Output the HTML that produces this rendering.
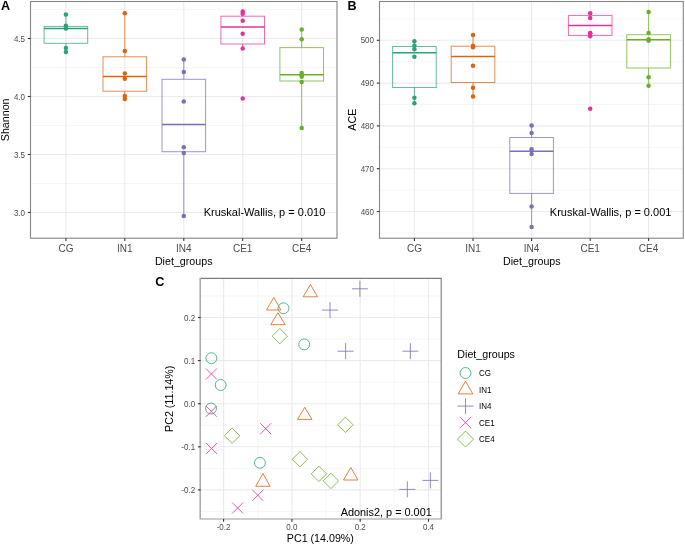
<!DOCTYPE html>
<html><head><meta charset="utf-8"><style>html,body{margin:0;padding:0;background:#fff;width:685px;height:545px;overflow:hidden;position:relative;font-family:"Liberation Sans", sans-serif}</style></head><body>
<svg width="685" height="545" viewBox="0 0 685 545" style="position:absolute;left:0;top:0;will-change:transform;font-family:'Liberation Sans', sans-serif">
<rect x="0" y="0" width="685" height="545" fill="#fff"/>
<line x1="30.5" y1="9.5" x2="337" y2="9.5" stroke="#F0F0F0" stroke-width="0.6" />
<line x1="30.5" y1="67.5" x2="337" y2="67.5" stroke="#F0F0F0" stroke-width="0.6" />
<line x1="30.5" y1="125.5" x2="337" y2="125.5" stroke="#F0F0F0" stroke-width="0.6" />
<line x1="30.5" y1="183.5" x2="337" y2="183.5" stroke="#F0F0F0" stroke-width="0.6" />
<line x1="30.5" y1="38.5" x2="337" y2="38.5" stroke="#EBEBEB" stroke-width="1.1" />
<line x1="30.5" y1="96.5" x2="337" y2="96.5" stroke="#EBEBEB" stroke-width="1.1" />
<line x1="30.5" y1="154.5" x2="337" y2="154.5" stroke="#EBEBEB" stroke-width="1.1" />
<line x1="30.5" y1="212.5" x2="337" y2="212.5" stroke="#EBEBEB" stroke-width="1.1" />
<line x1="65.9" y1="1.5" x2="65.9" y2="238.2" stroke="#EBEBEB" stroke-width="1.1" />
<line x1="124.8" y1="1.5" x2="124.8" y2="238.2" stroke="#EBEBEB" stroke-width="1.1" />
<line x1="183.8" y1="1.5" x2="183.8" y2="238.2" stroke="#EBEBEB" stroke-width="1.1" />
<line x1="242.7" y1="1.5" x2="242.7" y2="238.2" stroke="#EBEBEB" stroke-width="1.1" />
<line x1="301.7" y1="1.5" x2="301.7" y2="238.2" stroke="#EBEBEB" stroke-width="1.1" />
<line x1="65.9" y1="14.5" x2="65.9" y2="26.4" stroke="#29A479" stroke-width="1.0" stroke-opacity="0.72"/>
<line x1="65.9" y1="43.3" x2="65.9" y2="52.1" stroke="#29A479" stroke-width="1.0" stroke-opacity="0.72"/>
<rect x="44.1" y="26.4" width="43.6" height="16.9" fill="none" stroke="#29A479" stroke-width="1" stroke-opacity="0.72"/>
<line x1="44.1" y1="28.4" x2="87.7" y2="28.4" stroke="#29A479" stroke-width="1.5" />
<circle cx="65.9" cy="14.5" r="2.25" fill="#29A479"/>
<circle cx="65.9" cy="25.8" r="2.25" fill="#29A479"/>
<circle cx="65.9" cy="28.1" r="2.25" fill="#29A479"/>
<circle cx="65.9" cy="28.6" r="2.25" fill="#29A479"/>
<circle cx="65.9" cy="48.1" r="2.25" fill="#29A479"/>
<circle cx="65.9" cy="52.1" r="2.25" fill="#29A479"/>
<line x1="124.8" y1="13.3" x2="124.8" y2="56.8" stroke="#DB6410" stroke-width="1.0" stroke-opacity="0.72"/>
<line x1="124.8" y1="91.2" x2="124.8" y2="99" stroke="#DB6410" stroke-width="1.0" stroke-opacity="0.72"/>
<rect x="103" y="56.8" width="43.6" height="34.4" fill="none" stroke="#DB6410" stroke-width="1" stroke-opacity="0.72"/>
<line x1="103" y1="76.4" x2="146.6" y2="76.4" stroke="#DB6410" stroke-width="1.5" />
<circle cx="124.8" cy="13.3" r="2.25" fill="#DB6410"/>
<circle cx="124.8" cy="50.9" r="2.25" fill="#DB6410"/>
<circle cx="124.8" cy="73.5" r="2.25" fill="#DB6410"/>
<circle cx="124.8" cy="78.8" r="2.25" fill="#DB6410"/>
<circle cx="124.8" cy="96" r="2.25" fill="#DB6410"/>
<circle cx="124.8" cy="99" r="2.25" fill="#DB6410"/>
<line x1="183.8" y1="59.5" x2="183.8" y2="79.3" stroke="#7672B6" stroke-width="1.0" stroke-opacity="0.72"/>
<line x1="183.8" y1="151.7" x2="183.8" y2="216" stroke="#7672B6" stroke-width="1.0" stroke-opacity="0.72"/>
<rect x="162" y="79.3" width="43.6" height="72.4" fill="none" stroke="#7672B6" stroke-width="1" stroke-opacity="0.72"/>
<line x1="162" y1="124.6" x2="205.6" y2="124.6" stroke="#7672B6" stroke-width="1.5" />
<circle cx="183.8" cy="59.5" r="2.25" fill="#7672B6"/>
<circle cx="183.8" cy="72" r="2.25" fill="#7672B6"/>
<circle cx="183.8" cy="101.6" r="2.25" fill="#7672B6"/>
<circle cx="183.8" cy="147.3" r="2.25" fill="#7672B6"/>
<circle cx="183.8" cy="152.9" r="2.25" fill="#7672B6"/>
<circle cx="183.8" cy="216" r="2.25" fill="#7672B6"/>
<line x1="242.7" y1="11.5" x2="242.7" y2="16.2" stroke="#E7309A" stroke-width="1.0" stroke-opacity="0.72"/>
<line x1="242.7" y1="44" x2="242.7" y2="48.5" stroke="#E7309A" stroke-width="1.0" stroke-opacity="0.72"/>
<rect x="220.9" y="16.2" width="43.6" height="27.8" fill="none" stroke="#E7309A" stroke-width="1" stroke-opacity="0.72"/>
<line x1="220.9" y1="26.9" x2="264.5" y2="26.9" stroke="#E7309A" stroke-width="1.5" />
<circle cx="242.7" cy="11.5" r="2.25" fill="#E7309A"/>
<circle cx="242.7" cy="13.7" r="2.25" fill="#E7309A"/>
<circle cx="242.7" cy="20.8" r="2.25" fill="#E7309A"/>
<circle cx="242.7" cy="33.7" r="2.25" fill="#E7309A"/>
<circle cx="242.7" cy="48.5" r="2.25" fill="#E7309A"/>
<circle cx="242.7" cy="98.4" r="2.25" fill="#E7309A"/>
<line x1="301.7" y1="29.5" x2="301.7" y2="47.6" stroke="#6AAF28" stroke-width="1.0" stroke-opacity="0.72"/>
<line x1="301.7" y1="81" x2="301.7" y2="128.1" stroke="#6AAF28" stroke-width="1.0" stroke-opacity="0.72"/>
<rect x="279.9" y="47.6" width="43.6" height="33.4" fill="none" stroke="#6AAF28" stroke-width="1" stroke-opacity="0.72"/>
<line x1="279.9" y1="74.8" x2="323.5" y2="74.8" stroke="#6AAF28" stroke-width="1.5" />
<circle cx="301.7" cy="29.5" r="2.25" fill="#6AAF28"/>
<circle cx="301.7" cy="39.3" r="2.25" fill="#6AAF28"/>
<circle cx="301.7" cy="73.1" r="2.25" fill="#6AAF28"/>
<circle cx="301.7" cy="75.6" r="2.25" fill="#6AAF28"/>
<circle cx="301.7" cy="76.7" r="2.25" fill="#6AAF28"/>
<circle cx="301.7" cy="82.1" r="2.25" fill="#6AAF28"/>
<circle cx="301.7" cy="128.1" r="2.25" fill="#6AAF28"/>
<rect x="30.5" y="1.5" width="306.5" height="236.7" fill="none" stroke="#858585" stroke-width="1.1"/>
<line x1="27.8" y1="38.5" x2="30.5" y2="38.5" stroke="#333333" stroke-width="1.1" />
<text transform="translate(25,41.6) scale(0.89,1)" font-size="9.0" fill="#4D4D4D" text-anchor="end" font-weight="normal" >4.5</text>
<line x1="27.8" y1="96.5" x2="30.5" y2="96.5" stroke="#333333" stroke-width="1.1" />
<text transform="translate(25,99.6) scale(0.89,1)" font-size="9.0" fill="#4D4D4D" text-anchor="end" font-weight="normal" >4.0</text>
<line x1="27.8" y1="154.5" x2="30.5" y2="154.5" stroke="#333333" stroke-width="1.1" />
<text transform="translate(25,157.6) scale(0.89,1)" font-size="9.0" fill="#4D4D4D" text-anchor="end" font-weight="normal" >3.5</text>
<line x1="27.8" y1="212.5" x2="30.5" y2="212.5" stroke="#333333" stroke-width="1.1" />
<text transform="translate(25,215.6) scale(0.89,1)" font-size="9.0" fill="#4D4D4D" text-anchor="end" font-weight="normal" >3.0</text>
<line x1="65.9" y1="238.2" x2="65.9" y2="240.9" stroke="#333333" stroke-width="1.1" />
<text transform="translate(65.9,251.85) scale(0.93,1)" font-size="10.8" fill="#4D4D4D" text-anchor="middle" font-weight="normal" >CG</text>
<line x1="124.8" y1="238.2" x2="124.8" y2="240.9" stroke="#333333" stroke-width="1.1" />
<text transform="translate(124.8,251.85) scale(0.93,1)" font-size="10.8" fill="#4D4D4D" text-anchor="middle" font-weight="normal" >IN1</text>
<line x1="183.8" y1="238.2" x2="183.8" y2="240.9" stroke="#333333" stroke-width="1.1" />
<text transform="translate(183.8,251.85) scale(0.93,1)" font-size="10.8" fill="#4D4D4D" text-anchor="middle" font-weight="normal" >IN4</text>
<line x1="242.7" y1="238.2" x2="242.7" y2="240.9" stroke="#333333" stroke-width="1.1" />
<text transform="translate(242.7,251.85) scale(0.93,1)" font-size="10.8" fill="#4D4D4D" text-anchor="middle" font-weight="normal" >CE1</text>
<line x1="301.7" y1="238.2" x2="301.7" y2="240.9" stroke="#333333" stroke-width="1.1" />
<text transform="translate(301.7,251.85) scale(0.93,1)" font-size="10.8" fill="#4D4D4D" text-anchor="middle" font-weight="normal" >CE4</text>
<text transform="translate(183.7,264.8) scale(1.07,1)" font-size="10.0" fill="#000" text-anchor="middle" font-weight="normal" >Diet_groups</text>
<text transform="translate(8.5,119.85) rotate(-90) scale(1.07,1)" font-size="10.0" fill="#000" text-anchor="middle">Shannon</text>
<text x="325.3" y="216.2" font-size="11.0" fill="#000" text-anchor="end" font-weight="normal" >Kruskal-Wallis, p = 0.010</text>
<text transform="translate(1,10.2) scale(0.97,1)" font-size="13.0" fill="#000" text-anchor="start" font-weight="bold" >A</text>
<line x1="379.5" y1="18.9" x2="683.3" y2="18.9" stroke="#F0F0F0" stroke-width="0.6" />
<line x1="379.5" y1="61.7" x2="683.3" y2="61.7" stroke="#F0F0F0" stroke-width="0.6" />
<line x1="379.5" y1="104.5" x2="683.3" y2="104.5" stroke="#F0F0F0" stroke-width="0.6" />
<line x1="379.5" y1="147.3" x2="683.3" y2="147.3" stroke="#F0F0F0" stroke-width="0.6" />
<line x1="379.5" y1="190.1" x2="683.3" y2="190.1" stroke="#F0F0F0" stroke-width="0.6" />
<line x1="379.5" y1="232.9" x2="683.3" y2="232.9" stroke="#F0F0F0" stroke-width="0.6" />
<line x1="379.5" y1="40.3" x2="683.3" y2="40.3" stroke="#EBEBEB" stroke-width="1.1" />
<line x1="379.5" y1="83.1" x2="683.3" y2="83.1" stroke="#EBEBEB" stroke-width="1.1" />
<line x1="379.5" y1="125.9" x2="683.3" y2="125.9" stroke="#EBEBEB" stroke-width="1.1" />
<line x1="379.5" y1="168.7" x2="683.3" y2="168.7" stroke="#EBEBEB" stroke-width="1.1" />
<line x1="379.5" y1="211.5" x2="683.3" y2="211.5" stroke="#EBEBEB" stroke-width="1.1" />
<line x1="414.4" y1="1.5" x2="414.4" y2="238.2" stroke="#EBEBEB" stroke-width="1.1" />
<line x1="473" y1="1.5" x2="473" y2="238.2" stroke="#EBEBEB" stroke-width="1.1" />
<line x1="531.6" y1="1.5" x2="531.6" y2="238.2" stroke="#EBEBEB" stroke-width="1.1" />
<line x1="590.2" y1="1.5" x2="590.2" y2="238.2" stroke="#EBEBEB" stroke-width="1.1" />
<line x1="648.6" y1="1.5" x2="648.6" y2="238.2" stroke="#EBEBEB" stroke-width="1.1" />
<line x1="414.4" y1="41.2" x2="414.4" y2="46.5" stroke="#29A479" stroke-width="1.0" stroke-opacity="0.72"/>
<line x1="414.4" y1="87.5" x2="414.4" y2="103.2" stroke="#29A479" stroke-width="1.0" stroke-opacity="0.72"/>
<rect x="392.6" y="46.5" width="43.6" height="41" fill="none" stroke="#29A479" stroke-width="1" stroke-opacity="0.72"/>
<line x1="392.6" y1="52.8" x2="436.2" y2="52.8" stroke="#29A479" stroke-width="1.5" />
<circle cx="414.4" cy="41.2" r="2.25" fill="#29A479"/>
<circle cx="414.4" cy="45.7" r="2.25" fill="#29A479"/>
<circle cx="414.4" cy="49.3" r="2.25" fill="#29A479"/>
<circle cx="414.4" cy="56.7" r="2.25" fill="#29A479"/>
<circle cx="414.4" cy="97.7" r="2.25" fill="#29A479"/>
<circle cx="414.4" cy="103.2" r="2.25" fill="#29A479"/>
<line x1="473" y1="34.9" x2="473" y2="46.2" stroke="#DB6410" stroke-width="1.0" stroke-opacity="0.72"/>
<line x1="473" y1="82.5" x2="473" y2="96.6" stroke="#DB6410" stroke-width="1.0" stroke-opacity="0.72"/>
<rect x="451.2" y="46.2" width="43.6" height="36.3" fill="none" stroke="#DB6410" stroke-width="1" stroke-opacity="0.72"/>
<line x1="451.2" y1="56.4" x2="494.8" y2="56.4" stroke="#DB6410" stroke-width="1.5" />
<circle cx="473" cy="34.9" r="2.25" fill="#DB6410"/>
<circle cx="473" cy="45.7" r="2.25" fill="#DB6410"/>
<circle cx="473" cy="47.3" r="2.25" fill="#DB6410"/>
<circle cx="473" cy="65.8" r="2.25" fill="#DB6410"/>
<circle cx="473" cy="87.8" r="2.25" fill="#DB6410"/>
<circle cx="473" cy="96.6" r="2.25" fill="#DB6410"/>
<line x1="531.6" y1="125.6" x2="531.6" y2="137.5" stroke="#7672B6" stroke-width="1.0" stroke-opacity="0.72"/>
<line x1="531.6" y1="193.4" x2="531.6" y2="227.1" stroke="#7672B6" stroke-width="1.0" stroke-opacity="0.72"/>
<rect x="509.8" y="137.5" width="43.6" height="55.9" fill="none" stroke="#7672B6" stroke-width="1" stroke-opacity="0.72"/>
<line x1="509.8" y1="151.3" x2="553.4" y2="151.3" stroke="#7672B6" stroke-width="1.5" />
<circle cx="531.6" cy="125.6" r="2.25" fill="#7672B6"/>
<circle cx="531.6" cy="133.1" r="2.25" fill="#7672B6"/>
<circle cx="531.6" cy="149.2" r="2.25" fill="#7672B6"/>
<circle cx="531.6" cy="154.1" r="2.25" fill="#7672B6"/>
<circle cx="531.6" cy="206.6" r="2.25" fill="#7672B6"/>
<circle cx="531.6" cy="227.1" r="2.25" fill="#7672B6"/>
<line x1="590.2" y1="13.3" x2="590.2" y2="15.4" stroke="#E7309A" stroke-width="1.0" stroke-opacity="0.72"/>
<line x1="590.2" y1="35.4" x2="590.2" y2="36.3" stroke="#E7309A" stroke-width="1.0" stroke-opacity="0.72"/>
<rect x="568.4" y="15.4" width="43.6" height="20" fill="none" stroke="#E7309A" stroke-width="1" stroke-opacity="0.72"/>
<line x1="568.4" y1="25.6" x2="612" y2="25.6" stroke="#E7309A" stroke-width="1.5" />
<circle cx="590.2" cy="13.3" r="2.25" fill="#E7309A"/>
<circle cx="590.2" cy="18" r="2.25" fill="#E7309A"/>
<circle cx="590.2" cy="33.1" r="2.25" fill="#E7309A"/>
<circle cx="590.2" cy="33.3" r="2.25" fill="#E7309A"/>
<circle cx="590.2" cy="36.3" r="2.25" fill="#E7309A"/>
<circle cx="590.2" cy="108.8" r="2.25" fill="#E7309A"/>
<line x1="648.6" y1="12" x2="648.6" y2="34.7" stroke="#6AAF28" stroke-width="1.0" stroke-opacity="0.72"/>
<line x1="648.6" y1="68" x2="648.6" y2="85.7" stroke="#6AAF28" stroke-width="1.0" stroke-opacity="0.72"/>
<rect x="626.8" y="34.7" width="43.6" height="33.3" fill="none" stroke="#6AAF28" stroke-width="1" stroke-opacity="0.72"/>
<line x1="626.8" y1="39.7" x2="670.4" y2="39.7" stroke="#6AAF28" stroke-width="1.5" />
<circle cx="648.6" cy="12" r="2.25" fill="#6AAF28"/>
<circle cx="648.6" cy="33.1" r="2.25" fill="#6AAF28"/>
<circle cx="648.6" cy="39.3" r="2.25" fill="#6AAF28"/>
<circle cx="648.6" cy="40.8" r="2.25" fill="#6AAF28"/>
<circle cx="648.6" cy="77.3" r="2.25" fill="#6AAF28"/>
<circle cx="648.6" cy="85.7" r="2.25" fill="#6AAF28"/>
<rect x="379.5" y="1.5" width="303.8" height="236.7" fill="none" stroke="#858585" stroke-width="1.1"/>
<line x1="376.8" y1="40.3" x2="379.5" y2="40.3" stroke="#333333" stroke-width="1.1" />
<text transform="translate(374,43.4) scale(0.89,1)" font-size="9.0" fill="#4D4D4D" text-anchor="end" font-weight="normal" >500</text>
<line x1="376.8" y1="83.1" x2="379.5" y2="83.1" stroke="#333333" stroke-width="1.1" />
<text transform="translate(374,86.2) scale(0.89,1)" font-size="9.0" fill="#4D4D4D" text-anchor="end" font-weight="normal" >490</text>
<line x1="376.8" y1="125.9" x2="379.5" y2="125.9" stroke="#333333" stroke-width="1.1" />
<text transform="translate(374,129) scale(0.89,1)" font-size="9.0" fill="#4D4D4D" text-anchor="end" font-weight="normal" >480</text>
<line x1="376.8" y1="168.7" x2="379.5" y2="168.7" stroke="#333333" stroke-width="1.1" />
<text transform="translate(374,171.8) scale(0.89,1)" font-size="9.0" fill="#4D4D4D" text-anchor="end" font-weight="normal" >470</text>
<line x1="376.8" y1="211.5" x2="379.5" y2="211.5" stroke="#333333" stroke-width="1.1" />
<text transform="translate(374,214.6) scale(0.89,1)" font-size="9.0" fill="#4D4D4D" text-anchor="end" font-weight="normal" >460</text>
<line x1="414.4" y1="238.2" x2="414.4" y2="240.9" stroke="#333333" stroke-width="1.1" />
<text transform="translate(414.4,251.85) scale(0.93,1)" font-size="10.8" fill="#4D4D4D" text-anchor="middle" font-weight="normal" >CG</text>
<line x1="473" y1="238.2" x2="473" y2="240.9" stroke="#333333" stroke-width="1.1" />
<text transform="translate(473,251.85) scale(0.93,1)" font-size="10.8" fill="#4D4D4D" text-anchor="middle" font-weight="normal" >IN1</text>
<line x1="531.6" y1="238.2" x2="531.6" y2="240.9" stroke="#333333" stroke-width="1.1" />
<text transform="translate(531.6,251.85) scale(0.93,1)" font-size="10.8" fill="#4D4D4D" text-anchor="middle" font-weight="normal" >IN4</text>
<line x1="590.2" y1="238.2" x2="590.2" y2="240.9" stroke="#333333" stroke-width="1.1" />
<text transform="translate(590.2,251.85) scale(0.93,1)" font-size="10.8" fill="#4D4D4D" text-anchor="middle" font-weight="normal" >CE1</text>
<line x1="648.6" y1="238.2" x2="648.6" y2="240.9" stroke="#333333" stroke-width="1.1" />
<text transform="translate(648.6,251.85) scale(0.93,1)" font-size="10.8" fill="#4D4D4D" text-anchor="middle" font-weight="normal" >CE4</text>
<text transform="translate(531.8,264.8) scale(1.07,1)" font-size="10.0" fill="#000" text-anchor="middle" font-weight="normal" >Diet_groups</text>
<text transform="translate(355.7,119.65) rotate(-90) scale(1.07,1)" font-size="10.0" fill="#000" text-anchor="middle">ACE</text>
<text x="671.4" y="216.2" font-size="11.0" fill="#000" text-anchor="end" font-weight="normal" >Kruskal-Wallis, p = 0.001</text>
<text transform="translate(347.55,10.2) scale(0.97,1)" font-size="13.0" fill="#000" text-anchor="start" font-weight="bold" >B</text>
<line x1="257.75" y1="278.4" x2="257.75" y2="519" stroke="#F0F0F0" stroke-width="0.6" />
<line x1="326.05" y1="278.4" x2="326.05" y2="519" stroke="#F0F0F0" stroke-width="0.6" />
<line x1="394.35" y1="278.4" x2="394.35" y2="519" stroke="#F0F0F0" stroke-width="0.6" />
<line x1="200.6" y1="295.95" x2="441.2" y2="295.95" stroke="#F0F0F0" stroke-width="0.6" />
<line x1="200.6" y1="339.05" x2="441.2" y2="339.05" stroke="#F0F0F0" stroke-width="0.6" />
<line x1="200.6" y1="382.15" x2="441.2" y2="382.15" stroke="#F0F0F0" stroke-width="0.6" />
<line x1="200.6" y1="425.25" x2="441.2" y2="425.25" stroke="#F0F0F0" stroke-width="0.6" />
<line x1="200.6" y1="468.35" x2="441.2" y2="468.35" stroke="#F0F0F0" stroke-width="0.6" />
<line x1="200.6" y1="511.45" x2="441.2" y2="511.45" stroke="#F0F0F0" stroke-width="0.6" />
<line x1="223.6" y1="278.4" x2="223.6" y2="519" stroke="#EBEBEB" stroke-width="1.1" />
<line x1="291.9" y1="278.4" x2="291.9" y2="519" stroke="#EBEBEB" stroke-width="1.1" />
<line x1="360.2" y1="278.4" x2="360.2" y2="519" stroke="#EBEBEB" stroke-width="1.1" />
<line x1="428.5" y1="278.4" x2="428.5" y2="519" stroke="#EBEBEB" stroke-width="1.1" />
<line x1="200.6" y1="317.5" x2="441.2" y2="317.5" stroke="#EBEBEB" stroke-width="1.1" />
<line x1="200.6" y1="360.6" x2="441.2" y2="360.6" stroke="#EBEBEB" stroke-width="1.1" />
<line x1="200.6" y1="403.7" x2="441.2" y2="403.7" stroke="#EBEBEB" stroke-width="1.1" />
<line x1="200.6" y1="446.8" x2="441.2" y2="446.8" stroke="#EBEBEB" stroke-width="1.1" />
<line x1="200.6" y1="489.9" x2="441.2" y2="489.9" stroke="#EBEBEB" stroke-width="1.1" />
<circle cx="211.4" cy="358.2" r="5.45" fill="none" stroke="#29A479" stroke-width="1.0" stroke-opacity="0.8"/>
<circle cx="283.5" cy="308.3" r="5.45" fill="none" stroke="#29A479" stroke-width="1.0" stroke-opacity="0.8"/>
<circle cx="304.2" cy="344.4" r="5.45" fill="none" stroke="#29A479" stroke-width="1.0" stroke-opacity="0.8"/>
<circle cx="220.7" cy="385" r="5.45" fill="none" stroke="#29A479" stroke-width="1.0" stroke-opacity="0.8"/>
<circle cx="211" cy="408.5" r="5.45" fill="none" stroke="#29A479" stroke-width="1.0" stroke-opacity="0.8"/>
<circle cx="259.9" cy="462.8" r="5.45" fill="none" stroke="#29A479" stroke-width="1.0" stroke-opacity="0.8"/>
<path d="M310.4 284.5L317.6 296.8L303.2 296.8Z" fill="none" stroke="#DB6410" stroke-width="1.0" stroke-opacity="0.8"/>
<path d="M273.75 297.4L280.95 310L266.55 310Z" fill="none" stroke="#DB6410" stroke-width="1.0" stroke-opacity="0.8"/>
<path d="M277.95 312.6L285.15 324.7L270.75 324.7Z" fill="none" stroke="#DB6410" stroke-width="1.0" stroke-opacity="0.8"/>
<path d="M304.75 407.3L311.95 419.4L297.55 419.4Z" fill="none" stroke="#DB6410" stroke-width="1.0" stroke-opacity="0.8"/>
<path d="M262.95 473.5L270.15 486.3L255.75 486.3Z" fill="none" stroke="#DB6410" stroke-width="1.0" stroke-opacity="0.8"/>
<path d="M350.75 467.5L357.95 480L343.55 480Z" fill="none" stroke="#DB6410" stroke-width="1.0" stroke-opacity="0.8"/>
<path d="M351.9 288.8H367.9M359.9 280.8V296.8" fill="none" stroke="#7672B6" stroke-width="1.0" stroke-opacity="0.8"/>
<path d="M322 310.1H338M330 302.1V318.1" fill="none" stroke="#7672B6" stroke-width="1.0" stroke-opacity="0.8"/>
<path d="M337.6 351.2H353.6M345.6 343.2V359.2" fill="none" stroke="#7672B6" stroke-width="1.0" stroke-opacity="0.8"/>
<path d="M402.4 351.2H418.4M410.4 343.2V359.2" fill="none" stroke="#7672B6" stroke-width="1.0" stroke-opacity="0.8"/>
<path d="M399.3 489.4H415.3M407.3 481.4V497.4" fill="none" stroke="#7672B6" stroke-width="1.0" stroke-opacity="0.8"/>
<path d="M422.4 480.4H438.4M430.4 472.4V488.4" fill="none" stroke="#7672B6" stroke-width="1.0" stroke-opacity="0.8"/>
<path d="M205.9 368.5L216.9 379.5M205.9 379.5L216.9 368.5" fill="none" stroke="#E7309A" stroke-width="1.0" stroke-opacity="0.8"/>
<path d="M205.9 405.8L216.9 416.8M205.9 416.8L216.9 405.8" fill="none" stroke="#E7309A" stroke-width="1.0" stroke-opacity="0.8"/>
<path d="M260.2 423.2L271.2 434.2M260.2 434.2L271.2 423.2" fill="none" stroke="#E7309A" stroke-width="1.0" stroke-opacity="0.8"/>
<path d="M206.1 443L217.1 454M206.1 454L217.1 443" fill="none" stroke="#E7309A" stroke-width="1.0" stroke-opacity="0.8"/>
<path d="M252.3 489.8L263.3 500.8M252.3 500.8L263.3 489.8" fill="none" stroke="#E7309A" stroke-width="1.0" stroke-opacity="0.8"/>
<path d="M232.2 502.5L243.2 513.5M232.2 513.5L243.2 502.5" fill="none" stroke="#E7309A" stroke-width="1.0" stroke-opacity="0.8"/>
<path d="M279.8 328.5L287.5 336.2L279.8 343.9L272.1 336.2Z" fill="none" stroke="#6AAF28" stroke-width="1.0" stroke-opacity="0.8"/>
<path d="M232.1 428L239.8 435.7L232.1 443.4L224.4 435.7Z" fill="none" stroke="#6AAF28" stroke-width="1.0" stroke-opacity="0.8"/>
<path d="M345.4 417.1L353.1 424.8L345.4 432.5L337.7 424.8Z" fill="none" stroke="#6AAF28" stroke-width="1.0" stroke-opacity="0.8"/>
<path d="M299.9 451.6L307.6 459.3L299.9 467L292.2 459.3Z" fill="none" stroke="#6AAF28" stroke-width="1.0" stroke-opacity="0.8"/>
<path d="M318.9 466.2L326.6 473.9L318.9 481.6L311.2 473.9Z" fill="none" stroke="#6AAF28" stroke-width="1.0" stroke-opacity="0.8"/>
<path d="M330.9 473.2L338.6 480.9L330.9 488.6L323.2 480.9Z" fill="none" stroke="#6AAF28" stroke-width="1.0" stroke-opacity="0.8"/>
<path d="M200.6 278.4H441.2V519" fill="none" stroke="#7d7d7d" stroke-width="1.1"/>
<line x1="200.6" y1="519" x2="441.75" y2="519" stroke="#9a9a9a" stroke-width="1.1" />
<line x1="200.2" y1="277.85" x2="200.2" y2="519.55" stroke="#a8a8a8" stroke-width="1.5" />
<line x1="197.9" y1="317.5" x2="200.6" y2="317.5" stroke="#333333" stroke-width="1.1" />
<text transform="translate(195.1,320.6) scale(0.89,1)" font-size="9.0" fill="#4D4D4D" text-anchor="end" font-weight="normal" >0.2</text>
<line x1="197.9" y1="360.6" x2="200.6" y2="360.6" stroke="#333333" stroke-width="1.1" />
<text transform="translate(195.1,363.7) scale(0.89,1)" font-size="9.0" fill="#4D4D4D" text-anchor="end" font-weight="normal" >0.1</text>
<line x1="197.9" y1="403.7" x2="200.6" y2="403.7" stroke="#333333" stroke-width="1.1" />
<text transform="translate(195.1,406.8) scale(0.89,1)" font-size="9.0" fill="#4D4D4D" text-anchor="end" font-weight="normal" >0.0</text>
<line x1="197.9" y1="446.8" x2="200.6" y2="446.8" stroke="#333333" stroke-width="1.1" />
<text transform="translate(195.1,449.9) scale(0.89,1)" font-size="9.0" fill="#4D4D4D" text-anchor="end" font-weight="normal" >-0.1</text>
<line x1="197.9" y1="489.9" x2="200.6" y2="489.9" stroke="#333333" stroke-width="1.1" />
<text transform="translate(195.1,493) scale(0.89,1)" font-size="9.0" fill="#4D4D4D" text-anchor="end" font-weight="normal" >-0.2</text>
<line x1="223.6" y1="519" x2="223.6" y2="521.7" stroke="#333333" stroke-width="1.1" />
<text transform="translate(223.6,529.9) scale(0.89,1)" font-size="9.0" fill="#4D4D4D" text-anchor="middle" font-weight="normal" >-0.2</text>
<line x1="291.9" y1="519" x2="291.9" y2="521.7" stroke="#333333" stroke-width="1.1" />
<text transform="translate(291.9,529.9) scale(0.89,1)" font-size="9.0" fill="#4D4D4D" text-anchor="middle" font-weight="normal" >0.0</text>
<line x1="360.2" y1="519" x2="360.2" y2="521.7" stroke="#333333" stroke-width="1.1" />
<text transform="translate(360.2,529.9) scale(0.89,1)" font-size="9.0" fill="#4D4D4D" text-anchor="middle" font-weight="normal" >0.2</text>
<line x1="428.5" y1="519" x2="428.5" y2="521.7" stroke="#333333" stroke-width="1.1" />
<text transform="translate(428.5,529.9) scale(0.89,1)" font-size="9.0" fill="#4D4D4D" text-anchor="middle" font-weight="normal" >0.4</text>
<text transform="translate(320.35,541.6) scale(1.07,1)" font-size="10.0" fill="#000" text-anchor="middle" font-weight="normal" >PC1 (14.09%)</text>
<text transform="translate(172.8,398.8) rotate(-90) scale(1.07,1)" font-size="10.0" fill="#000" text-anchor="middle">PC2 (11.14%)</text>
<text x="431.8" y="515.5" font-size="10.9" fill="#000" text-anchor="end" font-weight="normal" >Adonis2, p = 0.001</text>
<text transform="translate(155.3,286.4) scale(0.97,1)" font-size="13.0" fill="#000" text-anchor="start" font-weight="bold" >C</text>
<text transform="translate(457.3,358.1) scale(1.07,1)" font-size="10.0" fill="#000" text-anchor="start" font-weight="normal" >Diet_groups</text>
<circle cx="465.5" cy="373" r="5.45" fill="none" stroke="#29A479" stroke-width="1.0" stroke-opacity="0.8"/>
<path d="M465.5 381.2L472.8 393.9L458.2 393.9Z" fill="none" stroke="#DB6410" stroke-width="1.0" stroke-opacity="0.8"/>
<path d="M457.5 406.1H473.5M465.5 398.1V414.1" fill="none" stroke="#7672B6" stroke-width="1.0" stroke-opacity="0.8"/>
<path d="M459.8 416.9L471.2 428.3M459.8 428.3L471.2 416.9" fill="none" stroke="#E7309A" stroke-width="1.0" stroke-opacity="0.8"/>
<path d="M465.5 431.1L473.5 439.1L465.5 447.1L457.5 439.1Z" fill="none" stroke="#6AAF28" stroke-width="1.0" stroke-opacity="0.8"/>
<text transform="translate(479.1,376) scale(0.89,1)" font-size="9.0" fill="#000" text-anchor="start" font-weight="normal" >CG</text>
<text transform="translate(479.1,392.6) scale(0.89,1)" font-size="9.0" fill="#000" text-anchor="start" font-weight="normal" >IN1</text>
<text transform="translate(479.1,409.1) scale(0.89,1)" font-size="9.0" fill="#000" text-anchor="start" font-weight="normal" >IN4</text>
<text transform="translate(479.1,425.6) scale(0.89,1)" font-size="9.0" fill="#000" text-anchor="start" font-weight="normal" >CE1</text>
<text transform="translate(479.1,442.1) scale(0.89,1)" font-size="9.0" fill="#000" text-anchor="start" font-weight="normal" >CE4</text>
</svg>
</body></html>
